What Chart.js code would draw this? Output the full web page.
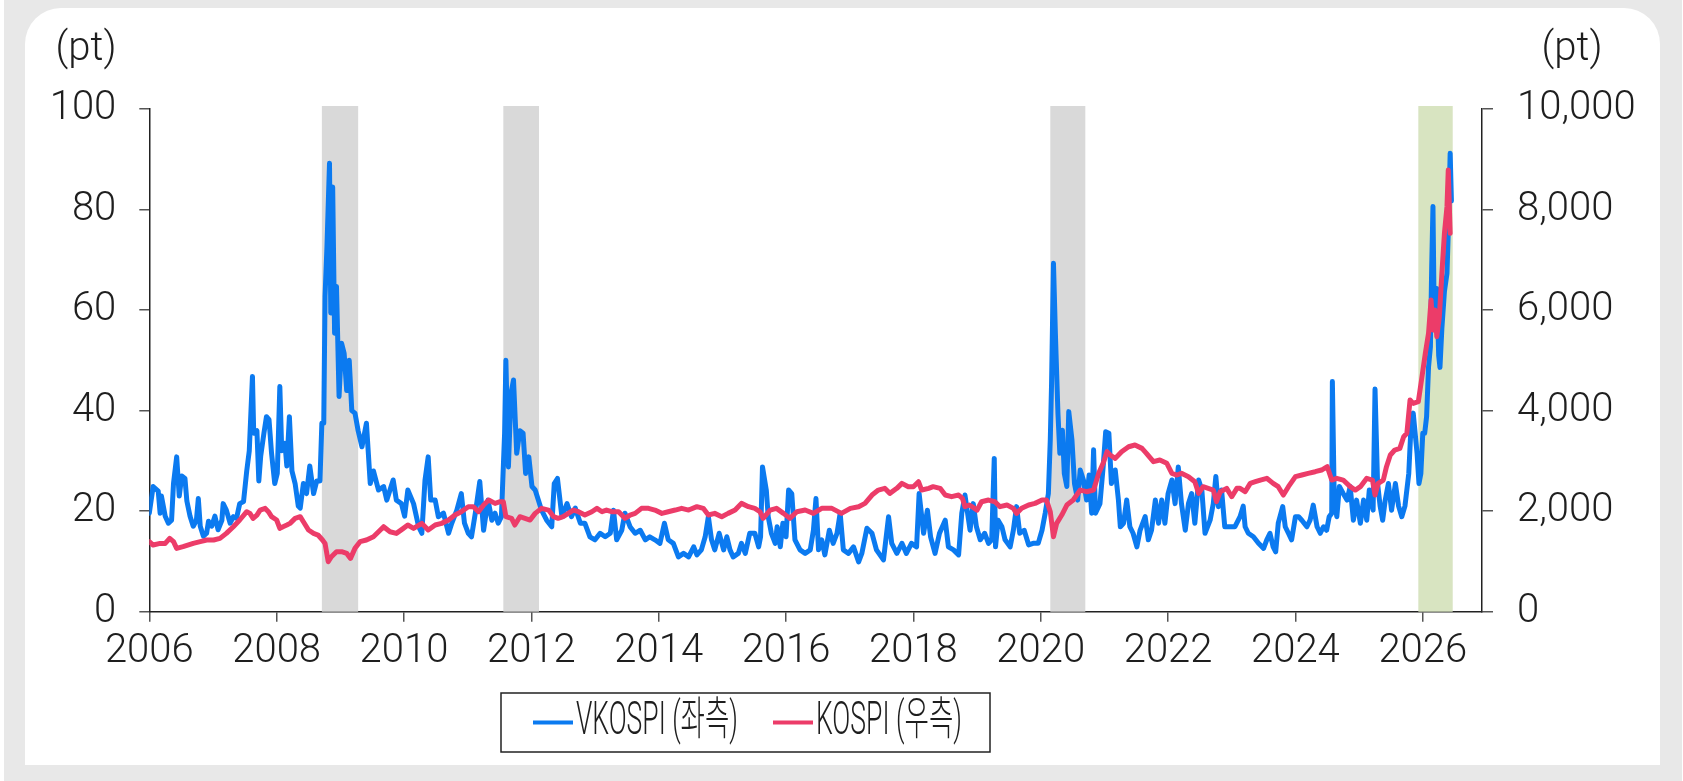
<!DOCTYPE html>
<html>
<head>
<meta charset="utf-8">
<script src="https://cdn.jsdelivr.net/npm/chart.js@4.4.1/dist/chart.umd.min.js"></script>
<style>
  html, body { margin: 0; padding: 0; background: #fff; }
  #frame { position: absolute; left: 4px; top: 0; width: 1678px; height: 781px; background: #e8e8e8; }
  #card { position: absolute; left: 25px; top: 8px; width: 1635px; height: 757px; background: #fff; border-radius: 36px 36px 0 0; }
  #wrap { position: absolute; left: 0; top: 0; width: 1683px; height: 781px; }
</style>
</head>
<body>
<div id="frame"></div>
<div id="card"></div>
<div id="wrap"><canvas id="myChart"></canvas></div>
<script>
// VKOSPI (left axis), decimal years
const vkYears = [
  2006.00,2006.06,2006.14,2006.17,2006.19,2006.25,2006.30,2006.35,2006.38,2006.43,2006.47,2006.51,2006.56,2006.59,2006.64,2006.69,2006.74,2006.77,2006.80,2006.85,2006.90,2006.93,2006.98,
  2007.03,2007.08,2007.14,2007.16,2007.21,2007.27,2007.32,2007.37,2007.42,2007.48,2007.53,2007.57,2007.62,2007.64,2007.69,2007.72,2007.75,2007.80,2007.84,2007.88,2007.92,2007.97,
  2008.01,2008.05,2008.08,2008.13,2008.16,2008.20,2008.24,2008.29,2008.34,2008.37,2008.42,2008.47,2008.52,2008.58,2008.63,2008.68,2008.71,2008.74,2008.76,2008.79,2008.83,2008.85,2008.88,2008.91,2008.94,2008.98,
  2009.02,2009.06,2009.10,2009.14,2009.18,2009.23,2009.28,2009.34,2009.41,2009.47,2009.52,2009.60,2009.68,2009.73,2009.83,2009.88,2009.96,
  2010.01,2010.06,2010.15,2010.23,2010.28,2010.33,2010.38,2010.42,2010.49,2010.54,2010.62,2010.70,2010.75,2010.83,2010.90,2010.95,
  2011.01,2011.06,2011.12,2011.19,2011.25,2011.32,2011.38,2011.43,2011.48,2011.53,2011.58,2011.60,2011.64,2011.68,2011.72,2011.77,2011.82,2011.87,2011.91,2011.96,
  2012.01,2012.06,2012.11,2012.16,2012.24,2012.32,2012.36,2012.41,2012.48,2012.56,2012.63,2012.69,2012.77,2012.84,2012.92,
  2013.00,2013.08,2013.16,2013.24,2013.29,2013.34,2013.42,2013.47,2013.55,2013.63,2013.71,2013.79,2013.86,2013.94,
  2014.02,2014.09,2014.15,2014.23,2014.31,2014.39,2014.47,2014.55,2014.60,2014.67,2014.73,2014.78,2014.83,2014.88,2014.95,
  2015.02,2015.07,2015.12,2015.17,2015.25,2015.30,2015.36,2015.43,2015.51,2015.57,2015.60,2015.63,2015.69,2015.72,2015.77,2015.83,2015.86,2015.91,2015.95,
  2016.00,2016.04,2016.09,2016.14,2016.22,2016.30,2016.38,2016.43,2016.47,2016.51,2016.56,2016.61,2016.68,2016.74,2016.80,2016.85,2016.90,2016.98,
  2017.06,2017.14,2017.19,2017.27,2017.35,2017.42,2017.53,2017.61,2017.66,2017.74,2017.82,2017.89,2017.97,
  2018.05,2018.09,2018.16,2018.22,2018.27,2018.34,2018.41,2018.50,2018.55,2018.63,2018.71,2018.76,2018.81,2018.89,2018.94,2018.99,
  2019.05,2019.12,2019.18,2019.23,2019.27,2019.29,2019.33,2019.39,2019.44,2019.52,2019.57,2019.62,2019.67,2019.74,2019.81,2019.88,2019.96,
  2020.02,2020.07,2020.12,2020.15,2020.17,2020.20,2020.23,2020.27,2020.30,2020.34,2020.37,2020.41,2020.44,2020.49,2020.53,2020.58,2020.62,2020.67,2020.72,2020.76,2020.80,2020.83,2020.86,2020.93,2020.98,
  2021.02,2021.07,2021.11,2021.17,2021.22,2021.25,2021.30,2021.35,2021.40,2021.45,2021.51,2021.56,2021.64,2021.69,2021.74,2021.80,2021.85,2021.90,2021.95,
  2022.00,2022.06,2022.11,2022.16,2022.21,2022.27,2022.32,2022.37,2022.42,2022.48,2022.53,2022.58,2022.66,2022.71,2022.75,2022.79,2022.84,2022.89,2022.97,
  2023.05,2023.13,2023.18,2023.21,2023.26,2023.34,2023.42,2023.50,2023.55,2023.60,2023.65,2023.69,2023.73,2023.80,2023.84,2023.89,2023.94,
  2024.00,2024.05,2024.10,2024.18,2024.23,2024.28,2024.34,2024.39,2024.44,2024.49,2024.53,2024.57,2024.58,2024.61,2024.65,2024.69,2024.75,2024.81,2024.86,2024.91,2024.96,
  2025.02,2025.07,2025.12,2025.16,2025.22,2025.25,2025.29,2025.33,2025.37,2025.41,2025.46,2025.51,2025.57,2025.62,2025.67,2025.72,2025.78,2025.81,2025.85,2025.91,2025.94,2025.97,
  2026.00,2026.03,2026.06,2026.09,2026.12,2026.14,2026.16,2026.18,2026.22,2026.25,2026.27,2026.30,2026.34,2026.38,2026.40,2026.43,2026.45
];
const vkValues = [
  19.6,24.9,24.0,19.6,23.0,19.0,17.6,18.2,25.5,30.8,23.0,27.0,26.5,22.0,19.0,17.0,18.2,22.5,17.0,15.0,15.6,18.0,17.0,
  19.0,16.3,18.2,21.5,20.2,17.6,18.9,18.6,21.5,21.9,28.0,32.0,46.8,35.5,36.0,26.0,31.0,35.5,38.8,38.2,31.5,25.5,
  27.5,44.8,32.0,33.5,29.0,38.8,28.0,25.5,21.0,20.6,25.5,23.5,29.0,23.5,26.0,26.0,37.5,37.5,62.7,72.6,89.2,59.4,84.5,55.4,64.7,42.8,
  53.4,51.4,44.0,50.0,40.0,39.5,36.0,32.8,37.5,25.5,28.0,24.2,24.9,22.2,26.2,22.2,21.5,
  19.0,24.2,21.5,16.9,15.6,26.2,30.8,22.2,22.2,18.9,19.6,15.6,17.6,20.2,23.5,17.6,
  15.6,14.9,19.6,25.9,16.2,22.2,18.2,19.6,17.6,18.9,35.5,50.0,28.8,43.4,46.1,31.5,36.0,35.5,27.5,30.8,
  24.9,24.2,22.2,20.2,18.2,16.9,25.5,26.5,18.9,21.5,18.9,20.6,17.6,17.6,14.9,
  14.3,15.6,14.9,15.6,20.2,14.3,16.2,19.6,16.9,15.6,16.2,14.3,14.9,14.3,
  13.6,17.6,14.3,13.6,10.9,11.6,10.9,12.9,11.3,12.3,14.9,18.9,14.3,12.3,15.6,
  12.3,14.9,12.3,10.9,11.6,13.6,11.6,15.6,15.6,12.9,14.9,28.8,24.2,18.9,15.6,13.6,16.9,12.9,17.6,
  14.9,24.2,23.5,14.3,12.3,11.6,12.3,16.2,22.5,12.3,14.3,11.3,16.2,13.6,15.6,19.6,12.3,11.6,
  12.9,9.9,11.6,16.6,15.6,12.3,10.3,18.9,13.6,11.6,13.6,11.6,13.6,
  12.9,23.5,15.6,20.2,14.9,11.6,15.6,18.2,12.9,12.3,11.3,19.6,23.2,16.2,21.5,16.9,
  14.3,15.6,13.6,14.3,30.5,12.9,18.2,16.9,14.3,12.9,16.2,20.9,15.6,16.2,13.3,13.6,13.6,
  16.2,19.6,23.5,34.2,45.4,69.3,55.4,39.5,31.5,36.1,27.5,24.9,39.8,34.2,25.5,22.2,28.2,26.2,22.2,27.2,19.6,32.2,19.6,21.5,28.8,
  35.8,35.5,25.5,28.2,22.2,16.9,17.6,22.2,16.9,15.6,12.9,16.2,18.9,14.3,16.2,22.2,17.6,22.2,17.6,
  23.5,26.2,21.5,28.8,21.5,16.2,21.5,23.5,17.6,26.2,24.2,15.6,18.2,21.5,26.9,20.9,24.2,16.9,16.9,
  16.9,18.9,21.0,16.9,15.6,14.9,13.6,12.6,14.3,15.6,12.9,11.9,17.6,20.9,16.9,15.6,14.3,
  18.9,18.9,18.2,16.9,18.2,21.2,16.9,15.6,16.9,16.2,18.9,19.6,45.8,22.2,18.9,24.9,23.5,22.2,24.9,18.2,22.2,
  17.6,22.2,18.2,24.2,20.2,44.3,25.5,21.0,18.2,22.2,25.5,20.2,25.5,21.0,18.9,21.0,27.5,35.5,39.5,31.5,25.5,27.5,
  35.5,35.5,38.8,48.6,52.7,68.6,80.6,58.3,64.3,50.9,48.6,56.4,63.7,67.3,75.3,91.2,81.7
];

// KOSPI (right axis), decimal years
const kospiYears = [
  2006.00,2006.06,2006.17,2006.25,2006.32,2006.38,2006.43,2006.53,2006.69,2006.80,2006.90,
  2007.01,2007.11,2007.21,2007.32,2007.42,2007.53,2007.58,2007.63,2007.69,2007.74,2007.82,2007.87,2007.92,
  2008.00,2008.05,2008.10,2008.16,2008.21,2008.29,2008.37,2008.42,2008.50,2008.58,2008.65,2008.72,2008.76,2008.81,2008.86,2008.94,
  2009.02,2009.10,2009.16,2009.23,2009.31,2009.41,2009.52,2009.60,2009.68,2009.78,2009.88,2009.99,
  2010.06,2010.15,2010.28,2010.38,2010.49,2010.59,2010.70,2010.80,2010.90,
  2011.01,2011.09,2011.17,2011.25,2011.33,2011.43,2011.51,2011.56,2011.60,2011.69,2011.74,2011.82,2011.90,2011.98,
  2012.06,2012.16,2012.27,2012.35,2012.42,2012.50,2012.58,2012.66,2012.74,2012.84,2012.95,
  2013.03,2013.11,2013.18,2013.26,2013.37,2013.47,2013.55,2013.63,2013.73,2013.84,2013.94,
  2014.05,2014.15,2014.26,2014.36,2014.47,2014.60,2014.70,2014.78,2014.88,2014.99,
  2015.09,2015.20,2015.30,2015.41,2015.51,2015.59,2015.64,2015.75,2015.85,2015.96,
  2016.06,2016.17,2016.30,2016.43,2016.56,2016.72,2016.87,
  2017.01,2017.14,2017.24,2017.35,2017.45,2017.55,2017.63,2017.74,2017.82,2017.92,
  2018.00,2018.08,2018.13,2018.24,2018.31,2018.42,2018.50,2018.60,2018.71,2018.77,2018.81,2018.88,2018.92,
  2019.00,2019.07,2019.18,2019.28,2019.36,2019.47,2019.57,2019.62,2019.70,2019.81,2019.91,
  2020.02,2020.09,2020.15,2020.20,2020.25,2020.33,2020.41,2020.51,2020.62,2020.72,2020.83,2020.91,2020.98,
  2021.04,2021.09,2021.17,2021.27,2021.38,2021.48,2021.59,2021.66,2021.77,2021.87,2021.98,
  2022.06,2022.14,2022.21,2022.32,2022.42,2022.48,2022.55,2022.63,2022.71,2022.76,2022.82,2022.92,
  2023.00,2023.08,2023.13,2023.21,2023.29,2023.37,2023.45,2023.55,2023.65,2023.73,2023.81,2023.89,
  2024.00,2024.10,2024.20,2024.31,2024.41,2024.50,2024.57,2024.65,2024.75,2024.86,2024.94,
  2025.02,2025.12,2025.21,2025.25,2025.30,2025.38,2025.43,2025.49,2025.56,2025.64,2025.70,2025.75,2025.80,2025.85,2025.93,2025.98,
  2026.04,2026.09,2026.13,2026.16,2026.19,2026.22,2026.26,2026.30,2026.34,2026.38,2026.40,2026.43
];
const kospiValues = [
  1393,1326,1359,1359,1459,1393,1260,1293,1359,1393,1426,
  1426,1459,1558,1691,1824,1989,1956,1857,1923,2022,2056,1989,1890,
  1824,1658,1691,1724,1757,1857,1890,1790,1625,1558,1525,1426,1359,995,1094,1194,
  1194,1160,1061,1260,1393,1426,1492,1591,1691,1591,1558,1658,
  1724,1658,1757,1625,1724,1757,1824,1923,1989,
  2089,2089,1989,2122,2221,2155,2188,2188,1890,1857,1724,1890,1857,1824,
  1956,2056,2022,1890,1857,1890,1956,2022,1989,1923,1989,
  2056,1989,2022,1989,1989,1857,1923,1956,2056,2056,2022,
  1956,1989,2022,2056,2022,2089,2056,1923,1956,1890,
  1956,2022,2155,2089,2056,1989,1857,2022,2056,1956,
  1857,1989,2022,1956,2056,2056,1956,
  2056,2089,2155,2321,2420,2454,2354,2454,2553,2487,
  2487,2586,2420,2454,2487,2454,2321,2288,2321,2255,2089,2122,2089,
  2022,2188,2221,2188,2089,2122,2056,1956,2056,2122,2155,
  2221,2221,1989,1492,1757,1923,2122,2221,2420,2387,2420,2752,2951,
  3183,3117,3050,3183,3282,3316,3249,3150,2984,3017,2951,
  2752,2719,2752,2686,2586,2354,2487,2454,2420,2188,2387,2454,
  2288,2454,2454,2387,2553,2586,2619,2653,2553,2487,2321,2487,
  2686,2719,2752,2785,2818,2885,2619,2653,2619,2487,2420,
  2487,2653,2619,2321,2553,2619,2885,3117,3216,3249,3481,3548,4211,4144,4178,4609,
  5139,5537,6200,5603,6001,5471,5869,6731,7527,8057,8787,7527
];

// shaded periods
const shadeStarts = [2008.71, 2011.56, 2020.15, 2025.93];
const shadeEnds   = [2009.28, 2012.12, 2020.70, 2026.47];
const shadeColors = ['#d9d9d9', '#d9d9d9', '#d9d9d9', '#d8e4c1'];

const seriesLabels = ['VKOSPI (좌측)', 'KOSPI (우측)'];
const seriesColors = ['#0b7af0', '#ec3c69'];
const unitLabel = '(pt)';

const tickFont = { family: 'Roboto', size: 40, weight: '300' };
const textColor = '#1e1e1e';

const toPoints = (xs, ys) => xs.map((x, i) => ({ x: x, y: ys[i] }));

function condensedText(ctx, text, x, y, width) {
  const w = ctx.measureText(text).width;
  ctx.save();
  ctx.translate(x, y);
  ctx.scale(width / w, 1);
  ctx.fillText(text, 0, 0);
  ctx.restore();
}

const extrasPlugin = {
  id: 'extras',
  beforeDatasetsDraw(chart) {
    const { ctx, chartArea, scales } = chart;
    ctx.save();
    shadeStarts.forEach((s, i) => {
      const x1 = scales.x.getPixelForValue(s);
      const x2 = scales.x.getPixelForValue(shadeEnds[i]);
      ctx.fillStyle = shadeColors[i];
      ctx.fillRect(x1, chartArea.top - 3, x2 - x1, chartArea.bottom - chartArea.top + 3);
    });
    ctx.restore();
  },
  afterDraw(chart) {
    const ctx = chart.ctx;
    ctx.save();
    // unit labels
    ctx.fillStyle = textColor;
    ctx.font = '300 40px Roboto';
    ctx.textAlign = 'center';
    ctx.textBaseline = 'middle';
    ctx.fillText(unitLabel, 86, 50);
    ctx.fillText(unitLabel, 1572, 50);

    // legend box
    ctx.strokeStyle = '#222';
    ctx.lineWidth = 1.5;
    ctx.strokeRect(501, 693, 489, 59);
    const sampleX = [533, 773];
    const textW = [162, 146];
    ctx.textAlign = 'left';
    ctx.textBaseline = 'alphabetic';
    ctx.font = '300 46px Roboto, "Noto Sans CJK KR"';
    seriesLabels.forEach((lab, i) => {
      ctx.strokeStyle = seriesColors[i];
      ctx.lineWidth = 4;
      ctx.beginPath();
      ctx.moveTo(sampleX[i], 722.5);
      ctx.lineTo(sampleX[i] + 40, 722.5);
      ctx.stroke();
      ctx.fillStyle = textColor;
      condensedText(ctx, lab, sampleX[i] + 43, 734, textW[i]);
    });
    ctx.restore();
  }
};

const ctx = document.getElementById('myChart').getContext('2d');
new Chart(ctx, {
  type: 'line',
  data: {
    datasets: [
      {
        label: seriesLabels[0],
        data: toPoints(vkYears, vkValues),
        yAxisID: 'y',
        borderColor: seriesColors[0],
        borderWidth: 5,
        pointRadius: 0,
        tension: 0,
        borderJoinStyle: 'round',
        borderCapStyle: 'round',
        order: 1
      },
      {
        label: seriesLabels[1],
        data: toPoints(kospiYears, kospiValues),
        yAxisID: 'y1',
        borderColor: seriesColors[1],
        borderWidth: 5,
        pointRadius: 0,
        tension: 0,
        borderJoinStyle: 'round',
        borderCapStyle: 'round',
        order: 0
      }
    ]
  },
  options: {
    responsive: true,
    maintainAspectRatio: false,
    animation: false,
    layout: { padding: { top: 109, left: 0, right: 0, bottom: 0 } },
    plugins: {
      legend: { display: false },
      tooltip: { enabled: false }
    },
    scales: {
      x: {
        type: 'linear',
        min: 2006,
        max: 2026.93,
        grid: { drawOnChartArea: false, tickLength: 10, color: '#555', lineWidth: 1.5 },
        border: { display: true, color: '#222', width: 1.5 },
        ticks: {
          stepSize: 2,
          includeBounds: false,
          maxRotation: 0,
          autoSkip: false,
          padding: 6,
          color: textColor,
          font: tickFont,
          callback: v => String(v)
        },
        afterFit: s => { s.height = 169.3; }
      },
      y: {
        position: 'left',
        min: 0,
        max: 100,
        grid: { drawOnChartArea: false, tickLength: 10, color: '#555', lineWidth: 1.5 },
        border: { display: true, color: '#222', width: 1.5 },
        ticks: { stepSize: 20, padding: 23, color: textColor, font: tickFont },
        afterFit: s => { s.width = 149.3; }
      },
      y1: {
        position: 'right',
        min: 0,
        max: 10000,
        grid: { drawOnChartArea: false, tickLength: 11, color: '#555', lineWidth: 1.5 },
        border: { display: true, color: '#222', width: 1.5 },
        ticks: {
          stepSize: 2000,
          padding: 24,
          color: textColor,
          font: tickFont,
          callback: v => v.toLocaleString('en-US')
        },
        afterFit: s => { s.width = 201; }
      }
    }
  },
  plugins: [extrasPlugin]
});
</script>
</body>
</html>
